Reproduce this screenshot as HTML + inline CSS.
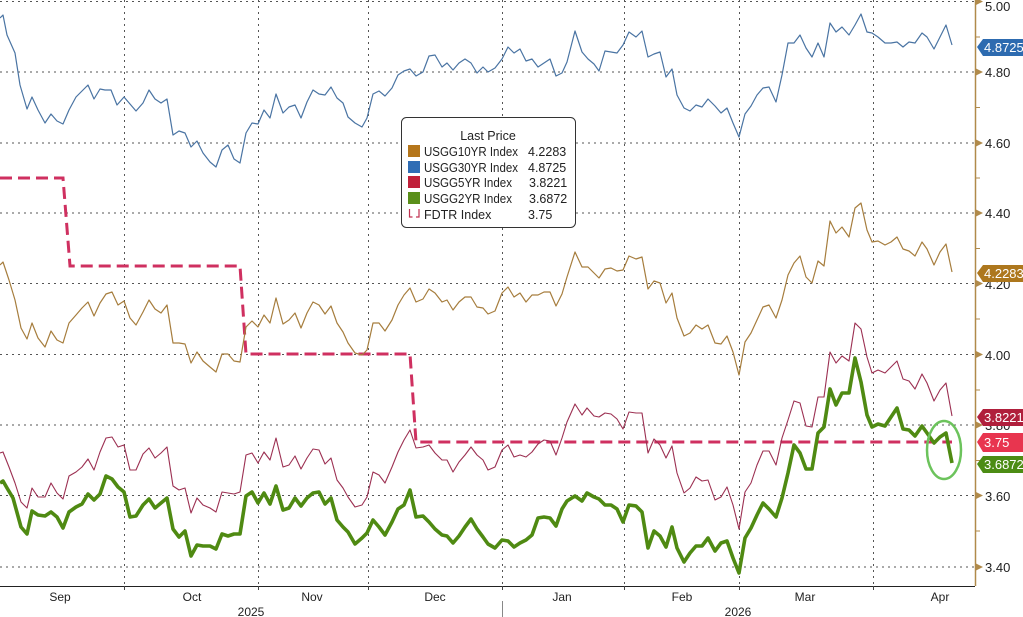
<!DOCTYPE html>
<html>
<head>
<meta charset="utf-8">
<style>
html,body{margin:0;padding:0;background:#fff;}
svg{display:block;font-family:"Liberation Sans",sans-serif;}
</style>
</head>
<body>
<svg width="1023" height="617" viewBox="0 0 1023 617" xmlns="http://www.w3.org/2000/svg">
<rect x="0" y="0" width="1023" height="617" fill="#fff"/>
<!-- horizontal grid -->
<g stroke="#555" stroke-width="1" stroke-dasharray="2,4">
<line x1="0" y1="1.5" x2="975" y2="1.5"/>
<line x1="0" y1="72" x2="975" y2="72"/>
<line x1="0" y1="143" x2="975" y2="143"/>
<line x1="0" y1="213" x2="975" y2="213"/>
<line x1="0" y1="283.5" x2="975" y2="283.5"/>
<line x1="0" y1="354.5" x2="975" y2="354.5"/>
<line x1="0" y1="425" x2="975" y2="425"/>
<line x1="0" y1="495.5" x2="975" y2="495.5"/>
<line x1="0" y1="567" x2="975" y2="567"/>
</g>
<!-- vertical grid -->
<g stroke="#555" stroke-width="1" stroke-dasharray="2,4">
<line x1="124.5" y1="0" x2="124.5" y2="586"/>
<line x1="258.5" y1="0" x2="258.5" y2="586"/>
<line x1="368.5" y1="0" x2="368.5" y2="586"/>
<line x1="502.5" y1="0" x2="502.5" y2="586"/>
<line x1="624.5" y1="0" x2="624.5" y2="586"/>
<line x1="739.5" y1="0" x2="739.5" y2="586"/>
<line x1="873.5" y1="0" x2="873.5" y2="586"/>
</g>

<!-- FDTR dashed -->
<polyline fill="none" stroke="#cf3060" stroke-width="3" stroke-dasharray="12,6" points="0,178 63,178 70,266 240,266 246,354 410,354 416,442 952,442"/>

<!-- 30YR blue -->
<polyline fill="none" stroke="#4a74a3" stroke-width="1.2" stroke-linejoin="round" points="0,18 3,15 7,35 15,53 20,85 27,109 32,97 38,110 45,123 51,114 57,121 63,124 69,110 76,97 82,91 88,85 94,99 100,89 105,90 111,90 117,105 124,97 130,104 136,111 143,103 149,90 155,99 161,103 167,99 173,135 179,131 185,133 191,147 197,141 203,153 210,162 216,167 222,150 228,145 234,159 240,163 246,133 252,123 258,124 264,110 270,118 276,94 283,113 289,107 295,105 301,118 307,102 313,90 319,94 325,95 331,87 337,98 343,103 348,117 355,123 362,127 367,118 373,94 379,91 385,96 392,88 398,75 404,71 410,69 416,76 423,72 429,56 435,55 442,67 447,63 453,70 459,63 465,59 471,63 477,73 483,67 488,72 495,68 502,59 508,47 514,53 520,49 526,61 532,59 538,67 544,63 550,59 556,76 562,73 567,62 575,31 582,52 588,59 594,64 599,71 605,51 611,52 617,53 623,45 629,32 636,37 642,31 648,57 654,54 660,52 666,77 672,69 677,95 684,108 690,111 696,105 702,107 708,99 715,106 721,113 727,108 733,123 739,137 745,114 751,106 757,95 763,88 769,87 776,102 782,75 788,43 794,43 800,35 806,48 812,57 818,43 824,57 830,23 836,32 842,27 849,35 855,25 861,14 867,32 872,33 878,37 885,43 891,43 897,42 903,47 909,42 915,43 922,33 927,37 934,49 940,37 946,25 952,45"/>

<!-- 10YR gold -->
<polyline fill="none" stroke="#a67d3d" stroke-width="1.2" stroke-linejoin="round" points="0,265 3,262 9,280 15,300 21,328 27,339 32,323 38,338 45,347 51,331 57,340 63,343 69,323 76,315 82,308 88,302 94,316 100,303 106,294 112,292 118,305 124,301 130,318 136,325 143,312 149,300 155,309 161,313 167,305 173,343 179,343 185,344 191,363 197,352 203,361 210,367 216,372 222,354 228,354 234,361 240,362 246,327 252,321 258,327 264,315 270,323 276,298 283,324 289,320 295,313 301,328 307,313 313,302 319,305 325,314 331,306 337,323 343,332 348,343 355,353 362,355 367,350 373,323 379,323 385,331 392,320 398,305 404,295 410,288 416,302 423,299 429,289 435,293 442,302 447,300 453,310 459,302 465,297 471,297 477,307 483,308 488,314 495,311 502,293 508,287 514,297 520,293 526,302 532,295 538,295 544,292 550,292 556,306 562,294 567,277 575,252 582,267 588,267 594,273 599,278 605,269 611,268 617,271 623,270 629,256 636,259 642,257 648,289 654,281 660,283 666,303 672,293 677,318 684,336 690,333 696,325 702,329 708,325 715,343 721,344 727,336 733,352 739,375 745,342 751,333 757,320 763,307 769,305 776,318 782,300 788,275 794,263 800,256 806,277 812,283 818,261 824,266 830,221 836,233 842,227 849,237 855,208 861,203 867,230 872,242 878,241 885,245 891,242 897,237 903,249 909,251 915,256 922,242 927,249 934,265 940,252 946,244 952,272"/>

<!-- 5YR red -->
<polyline fill="none" stroke="#9c3052" stroke-width="1.1" stroke-linejoin="round" points="0,453 3,452 9,467 15,483 21,502 27,508 32,488 38,497 45,497 51,483 57,493 63,499 69,476 76,472 82,467 88,459 94,470 100,452 106,438 112,437 118,447 124,445 130,470 136,470 143,454 149,448 155,458 161,453 167,447 173,486 179,490 185,488 191,513 197,498 203,505 210,508 216,512 222,492 228,493 234,494 240,492 246,455 252,453 258,463 264,452 270,460 276,438 283,467 289,465 295,456 301,469 307,458 313,449 319,450 325,464 331,458 337,480 343,488 348,497 355,507 362,505 367,497 373,472 379,475 385,483 392,467 398,452 404,440 410,430 416,448 423,447 429,445 435,453 442,460 447,460 453,472 459,462 465,455 471,447 477,455 483,460 488,470 495,467 502,450 508,445 514,457 520,455 526,457 532,452 538,444 544,440 550,441 556,455 562,438 567,422 575,404 582,415 587,408 594,416 599,417 605,413 611,414 617,419 623,429 629,412 636,413 642,413 648,453 654,439 660,445 666,458 672,446 677,473 684,493 690,488 696,477 702,481 708,480 715,500 721,497 727,487 733,505 739,529 745,492 751,483 757,465 763,451 769,451 776,465 782,438 788,420 794,401 800,403 806,426 812,427 818,397 824,397 830,352 836,363 842,356 849,361 855,323 861,329 867,357 872,373 878,370 885,373 891,367 897,361 903,379 909,381 915,389 922,374 927,383 934,401 940,390 946,383 952,416"/>

<!-- 2YR green -->
<polyline fill="none" stroke="#4f8a12" stroke-width="3.6" stroke-linejoin="round" points="0,483 3,481 7,488 13,498 21,527 27,534 32,511 38,515 45,516 51,512 57,517 63,528 69,512 76,507 82,504 88,494 94,500 100,494 106,476 112,479 118,487 124,492 130,517 136,516 143,505 149,499 155,508 161,503 167,498 173,529 179,537 185,531 191,556 197,545 203,546 210,546 216,549 222,534 228,536 234,534 240,534 246,496 252,492 258,503 264,493 270,504 276,486 283,510 289,508 295,498 301,506 307,498 313,493 319,492 325,504 331,498 337,520 343,527 348,532 355,544 362,538 367,533 373,520 379,527 385,535 392,522 398,509 404,505 410,490 416,517 423,516 429,522 435,529 442,535 447,536 453,543 459,536 465,527 471,519 477,529 483,537 488,544 495,548 502,540 508,541 514,547 520,543 526,540 532,535 538,518 544,517 550,518 556,526 562,509 567,501 575,496 582,501 587,493 594,497 599,499 605,505 611,505 617,509 623,522 629,505 636,506 642,512 648,548 654,531 660,536 666,547 672,527 677,548 684,562 690,553 696,546 702,546 708,538 715,551 721,543 727,541 733,558 739,573 745,538 751,528 757,515 763,503 769,509 776,517 782,498 788,473 794,445 800,453 806,469 812,469 818,433 824,427 830,389 836,405 842,393 849,393 855,358 861,382 867,415 872,427 878,424 885,426 891,417 897,408 903,429 909,430 915,436 922,426 927,433 934,443 940,437 946,433 952,463"/>

<!-- highlight ellipse -->
<ellipse cx="944" cy="450" rx="17" ry="29" fill="none" stroke="#6cc35c" stroke-width="2.5"/>

<!-- axes -->
<line x1="0" y1="586.5" x2="975" y2="586.5" stroke="#222" stroke-width="1"/>
<line x1="975.5" y1="0" x2="975.5" y2="586" stroke="#b08a4a" stroke-width="1.5"/>
<g stroke="#444" stroke-width="1">
<line x1="124.5" y1="586" x2="124.5" y2="590"/>
<line x1="258.5" y1="586" x2="258.5" y2="590"/>
<line x1="368.5" y1="586" x2="368.5" y2="590"/>
<line x1="502.5" y1="586" x2="502.5" y2="590"/>
<line x1="624.5" y1="586" x2="624.5" y2="590"/>
<line x1="739.5" y1="586" x2="739.5" y2="590"/>
<line x1="873.5" y1="586" x2="873.5" y2="590"/>
<line x1="502.5" y1="601" x2="502.5" y2="617" stroke="#888"/>
</g>
<!-- right axis ticks -->
<g fill="#b08a4a">
<polygon points="976,-2 983,1.5 976,5"/>
<polygon points="976,68.5 983,72 976,75.5"/>
<polygon points="976,139.5 983,143 976,146.5"/>
<polygon points="976,209.5 983,213 976,216.5"/>
<polygon points="976,280 983,283.5 976,287"/>
<polygon points="976,351 983,354.5 976,358"/>
<polygon points="976,421.5 983,425 976,428.5"/>
<polygon points="976,492 983,495.5 976,499"/>
<polygon points="976,563.5 983,567 976,570.5"/>
</g>
<g stroke="#b08a4a" stroke-width="1">
<line x1="976" y1="37" x2="980" y2="37"/>
<line x1="976" y1="107.5" x2="980" y2="107.5"/>
<line x1="976" y1="178" x2="980" y2="178"/>
<line x1="976" y1="248.5" x2="980" y2="248.5"/>
<line x1="976" y1="319" x2="980" y2="319"/>
<line x1="976" y1="390" x2="980" y2="390"/>
<line x1="976" y1="460.5" x2="980" y2="460.5"/>
<line x1="976" y1="531" x2="980" y2="531"/>
</g>
<g font-size="13" fill="#222">
<text x="985" y="11">5.00</text>
<text x="985" y="77">4.80</text>
<text x="985" y="148">4.60</text>
<text x="985" y="218">4.40</text>
<text x="985" y="289">4.20</text>
<text x="985" y="360">4.00</text>
<text x="985" y="430">3.80</text>
<text x="985" y="501">3.60</text>
<text x="985" y="572">3.40</text>
</g>

<!-- last value boxes -->
<polygon points="977,47 983,39 1023,39 1023,56 983,56" fill="#2d6bb0"/>
<text x="984" y="52" font-size="13" fill="#fff">4.8725</text>
<polygon points="977,273 983,265 1023,265 1023,282 983,282" fill="#ad771d"/>
<text x="984" y="278" font-size="13" fill="#fff">4.2283</text>
<polygon points="977,417 983,409 1023,409 1023,426 983,426" fill="#b01f3c"/>
<text x="984" y="422" font-size="13" fill="#fff">3.8221</text>
<polygon points="977,442 983,433 1023,433 1023,452 983,452" fill="#e8354f"/>
<text x="984" y="447" font-size="13" fill="#fff">3.75</text>
<polygon points="977,464 983,456 1023,456 1023,473 983,473" fill="#4c8c14"/>
<text x="984" y="469" font-size="13" fill="#fff">3.6872</text>

<!-- x labels -->
<g font-size="12" fill="#222" text-anchor="middle">
<text x="60" y="601">Sep</text>
<text x="192" y="601">Oct</text>
<text x="312" y="601">Nov</text>
<text x="435" y="601">Dec</text>
<text x="562" y="601">Jan</text>
<text x="682" y="601">Feb</text>
<text x="805" y="601">Mar</text>
<text x="940" y="601">Apr</text>
<text x="251" y="616">2025</text>
<text x="738" y="616">2026</text>
</g>

<!-- legend -->
<rect x="401.5" y="117.5" width="174" height="110" rx="5" fill="#fff" stroke="#333" stroke-width="1"/>
<g font-size="12.5" fill="#222">
<text x="488" y="140" text-anchor="middle">Last Price</text>
<rect x="408" y="145" width="12" height="12" fill="#b5761b"/>
<text x="424" y="156" textLength="94" lengthAdjust="spacingAndGlyphs">USGG10YR Index</text>
<text x="528" y="156">4.2283</text>
<rect x="408" y="161" width="12" height="12" fill="#2f6db5"/>
<text x="424" y="172" textLength="94" lengthAdjust="spacingAndGlyphs">USGG30YR Index</text>
<text x="528" y="172">4.8725</text>
<rect x="408" y="176" width="12" height="12" fill="#c0203a"/>
<text x="424" y="187" textLength="88" lengthAdjust="spacingAndGlyphs">USGG5YR Index</text>
<text x="529" y="187">3.8221</text>
<rect x="408" y="192" width="12" height="12" fill="#5a8f1a"/>
<text x="424" y="203" textLength="88" lengthAdjust="spacingAndGlyphs">USGG2YR Index</text>
<text x="529" y="203">3.6872</text>
<path d="M409.5,209 v8 h3 M416,217 h3 v-8" fill="none" stroke="#c0304f" stroke-width="1.2"/>
<text x="424" y="219">FDTR Index</text>
<text x="528" y="219">3.75</text>
</g>
</svg>
</body>
</html>
